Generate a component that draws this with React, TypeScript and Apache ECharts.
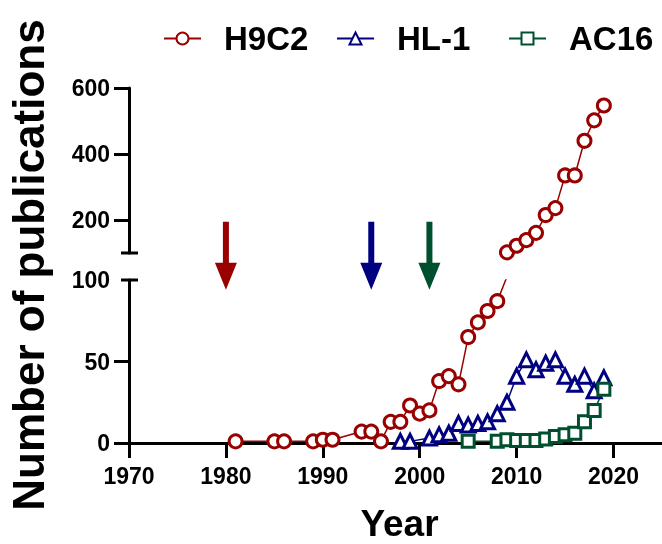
import React, { useEffect, useRef } from 'react';
import * as echarts from 'echarts';

// ---- data ----
const h9c2Years = [1981, 1985, 1986, 1989, 1990, 1991, 1994, 1995, 1996, 1997, 1998, 1999, 2000, 2001, 2002, 2003, 2004, 2005, 2006, 2007, 2008, 2009, 2010, 2011, 2012, 2013, 2014, 2015, 2016, 2017, 2018, 2019];
const h9c2Values = [1, 1, 1, 1, 2, 2, 7, 7, 1, 13, 13, 23, 18, 20, 38, 41, 36, 65, 74, 81, 87, 102, 122, 139, 161, 215, 236, 335, 335, 440, 502, 547];
const hl1Years = [1998, 1999, 2001, 2002, 2003, 2004, 2005, 2006, 2007, 2008, 2009, 2010, 2011, 2012, 2013, 2014, 2015, 2016, 2017, 2018, 2019];
const hl1Values = [1, 1, 3, 5, 6, 12, 11, 12, 13, 18, 25, 41, 51, 45, 49, 51, 41, 36, 41, 32, 40];
const ac16Years = [2005, 2008, 2009, 2010, 2011, 2012, 2013, 2014, 2015, 2016, 2017, 2018, 2019];
const ac16Values = [1, 1, 2, 1.5, 1.5, 1.5, 2.5, 4, 5, 6, 13, 20, 33];

const xTicks = [1970, 1980, 1990, 2000, 2010, 2020];
const upperTicks = [200, 400, 600];
const lowerTicks = [0, 50];
const lowerLabels = [0, 50, 100];

const arrowYears = [1980, 1995, 2001];
const arrowTopValue = 195; // on upper axis
const arrowTipValue = 94; // on lower axis

const RED = '#990000';
const NAVY = '#000080';
const GREEN = '#00502F';
const arrowColors = [RED, NAVY, GREEN];

const FONT = '"Liberation Sans", Arial, Helvetica, sans-serif';

export default function App() {
  const ref = useRef<HTMLDivElement>(null);

  useEffect(() => {
    const chart = echarts.init(ref.current!, null, { renderer: 'svg' });

    const mk = (name: string, years: number[], values: number[], color: string, symbol: string, size: number, idx: number) => ({
      type: 'line',
      name,
      xAxisIndex: idx,
      yAxisIndex: idx,
      data: years.map((y, i) => [y, values[i]]),
      symbol,
      symbolSize: size,
      clip: true,
      itemStyle: { color: '#fff', borderColor: color, borderWidth: 3 },
      lineStyle: { color, width: 1.5 },
      emphasis: { disabled: true },
      silent: true,
    });

    const axisCommon = {
      axisLine: { show: true, lineStyle: { color: '#000', width: 3 } },
      splitLine: { show: false },
    };
    const labelCommon = {
      show: true,
      color: '#000',
      fontSize: 23,
      fontWeight: 'bold',
      fontFamily: FONT,
      formatter: (v: number) => String(v),
    };

    const legendBase = (name: string, left: number) => ({
      data: [name],
      left,
      top: 22,
      padding: 0,
      itemWidth: 37,
      itemHeight: 15,
      selectedMode: false,
      textStyle: { fontFamily: FONT, fontSize: 33, fontWeight: 'bold', color: '#000', padding: [0, 0, 0, 18] },
    });

    chart.setOption({
      animation: false,
      textStyle: { fontFamily: FONT },
      legend: [legendBase('H9C2', 163), legendBase('HL-1', 336), legendBase('AC16', 508)],
      grid: [
        { left: 129, right: 0, top: 88, height: 165, outerBoundsMode: 'none' },
        { left: 129, right: 0, top: 280, height: 163, outerBoundsMode: 'none' },
      ],
      xAxis: [
        { type: 'value', gridIndex: 0, min: 1970, max: 2025, show: false },
        {
          type: 'value',
          gridIndex: 1,
          min: 1970,
          max: 2025,
          ...axisCommon,
          axisTick: { show: true, length: 15, lineStyle: { color: '#000', width: 3 }, customValues: xTicks },
          axisLabel: { ...labelCommon, customValues: xTicks, margin: 21 },
          name: 'Year',
          nameLocation: 'middle',
          nameGap: 66,
          nameTextStyle: { fontSize: 37, lineHeight: 28, fontWeight: 'bold', color: '#000', fontFamily: FONT, padding: [0, 0, 0, 8] },
        },
      ],
      yAxis: [
        {
          type: 'value',
          gridIndex: 0,
          min: 100,
          max: 600,
          ...axisCommon,
          axisTick: { show: true, length: 15, lineStyle: { color: '#000', width: 3 }, customValues: upperTicks },
          axisLabel: { ...labelCommon, customValues: upperTicks, margin: 19 },
        },
        {
          type: 'value',
          gridIndex: 1,
          min: 0,
          max: 100,
          ...axisCommon,
          axisTick: { show: true, length: 15, lineStyle: { color: '#000', width: 3 }, customValues: lowerTicks },
          axisLabel: { ...labelCommon, customValues: lowerLabels, margin: 19 },
        },
      ],
      series: [
        mk('H9C2', h9c2Years, h9c2Values, RED, 'circle', 13, 1),
        mk('H9C2', h9c2Years, h9c2Values, RED, 'circle', 13, 0),
        mk('HL-1', hl1Years, hl1Values, NAVY, 'triangle', 14, 1),
        mk('AC16', ac16Years, ac16Values, GREEN, 'rect', 12, 1),
      ],
    });

    // break caps and arrows computed from the axes
    const upCap = chart.convertToPixel({ xAxisIndex: 0, yAxisIndex: 0 }, [1970, 100]) as number[];
    const lowCap = chart.convertToPixel({ xAxisIndex: 1, yAxisIndex: 1 }, [1970, 100]) as number[];
    const capLine = (p: number[]) => ({
      type: 'line',
      shape: { x1: p[0] - 8, y1: p[1], x2: p[0] + 9, y2: p[1] },
      style: { stroke: '#000', lineWidth: 3 },
      silent: true,
    });

    const arrows = arrowYears.map((yr, i) => {
      const top = chart.convertToPixel({ xAxisIndex: 0, yAxisIndex: 0 }, [yr, arrowTopValue]) as number[];
      const tip = chart.convertToPixel({ xAxisIndex: 1, yAxisIndex: 1 }, [yr, arrowTipValue]) as number[];
      const x = tip[0];
      const headY = tip[1] - 27;
      return {
        type: 'polygon',
        shape: {
          points: [
            [x - 3, top[1]],
            [x + 3, top[1]],
            [x + 3, headY],
            [x + 11, headY],
            [x, tip[1]],
            [x - 11, headY],
            [x - 3, headY],
          ],
        },
        style: { fill: arrowColors[i] },
        silent: true,
      };
    });

    chart.setOption({
      graphic: [
        capLine(upCap),
        capLine(lowCap),
        ...arrows,
        {
          type: 'text',
          x: 28,
          y: 265,
          rotation: Math.PI / 2,
          style: {
            text: 'Number of publications',
            fontSize: 44,
            fontWeight: 'bold',
            fontFamily: FONT,
            fill: '#000',
            align: 'center',
            verticalAlign: 'middle',
          },
          silent: true,
        },
      ],
    });

    return () => chart.dispose();
  }, []);

  return <div ref={ref} style={{ position: 'fixed', left: 0, top: 0, width: 662, height: 544 }} />;
}
